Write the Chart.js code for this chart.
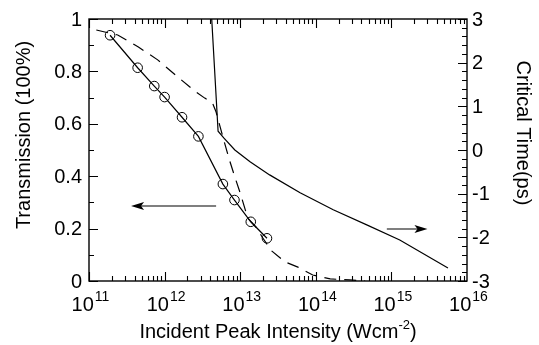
<!DOCTYPE html>
<html>
<head>
<meta charset="utf-8">
<script src="https://cdn.jsdelivr.net/npm/chart.js@4.4.0/dist/chart.umd.min.js"></script>
<style>
  html, body { margin: 0; padding: 0; background: #fff; }
</style>
</head>
<body>
<canvas id="chart" width="539" height="345"></canvas>
<script>
// measured transmission (open circles)
const measIntensity = [1.9e11, 4.4e11, 7.3e11, 1.0e12, 1.7e12, 2.8e12, 5.9e12, 8.4e12, 1.38e13, 2.26e13];
const measTrans = [0.938, 0.814, 0.744, 0.702, 0.625, 0.552, 0.370, 0.309, 0.226, 0.163];

// calculated transmission (dashed)
const modelIntensity = [1.25e11, 2.4e11, 4.5e11, 8.1e11, 1.45e12, 2.5e12, 3.4e12, 4.3e12, 4.8e12, 5.9e12, 7.2e12,
  8.5e12, 1.0e13, 1.26e13, 1.66e13, 1.95e13, 2.6e13, 3.9e13, 5.8e13, 9.1e13, 1.55e14, 2.8e14, 4.5e14];
const modelTrans = [0.958, 0.939, 0.893, 0.844, 0.782, 0.725, 0.698, 0.679, 0.645, 0.55, 0.462,
  0.397, 0.336, 0.24, 0.202, 0.168, 0.115, 0.073, 0.053, 0.023, 0.008, 0.004, 0.0];

// critical time, right axis (solid)
const critIntensity = [4.2e12, 5.1e12, 6.1e12, 8.5e12, 1.35e13, 2.45e13, 6.2e13, 1.7e14, 4.8e14, 1.29e15, 5.6e15];
const critTime = [3.0, 0.43, 0.27, 0.0, -0.27, -0.57, -0.98, -1.37, -1.72, -2.06, -2.70];

// axis ticks
const xTickExps = [11, 12, 13, 14, 15, 16];
const leftTicks = [0, 0.2, 0.4, 0.6, 0.8, 1];
const leftTickLabels = ['0', '0.2', '0.4', '0.6', '0.8', '1'];
const rightTicks = [-3, -2, -1, 0, 1, 2, 3];
const rightTickLabels = ['-3', '-2', '-1', '0', '1', '2', '3'];

// arrows: [x from, x to (head), y] in data units
const arrowLeft = [4.8e12, 3.6e11, 0.286];    // on transmission axis
const arrowRight = [8.7e14, 3.0e15, -1.81];   // on critical time axis

const FONT = '"Liberation Sans", Arial, Helvetica, sans-serif';

const toPoints = (xs, ys) => xs.map((x, i) => ({ x: x, y: ys[i] }));

function arrow(ctx, x0, x1, y) {
    const dir = x1 > x0 ? 1 : -1;
    ctx.beginPath();
    ctx.moveTo(x0, y);
    ctx.lineTo(x1 - dir * 8, y);
    ctx.stroke();
    ctx.beginPath();
    ctx.moveTo(x1, y);
    ctx.lineTo(x1 - dir * 13, y - 4);
    ctx.lineTo(x1 - dir * 10, y);
    ctx.lineTo(x1 - dir * 13, y + 4);
    ctx.closePath();
    ctx.fill();
}

const frame = {
    id: 'frame',
    afterDraw(chart) {
        const { ctx, chartArea: a, scales } = chart;
        const sx = scales.x, yl = scales.y, yr = scales.y2;
        ctx.save();
        ctx.strokeStyle = '#000';
        ctx.fillStyle = '#000';
        ctx.lineWidth = 1.4;
        ctx.strokeRect(a.left, a.top, a.right - a.left, a.bottom - a.top);

        // inward ticks
        ctx.lineWidth = 1.1;
        ctx.beginPath();
        for (let e = 11; e < 16; e++) {
            for (let m = 1; m <= 9; m++) {
                const px = Math.round(sx.getPixelForValue(m * Math.pow(10, e))) + 0.5;
                const len = m === 1 ? 9 : 5;
                ctx.moveTo(px, a.bottom); ctx.lineTo(px, a.bottom - len);
                ctx.moveTo(px, a.top); ctx.lineTo(px, a.top + len);
            }
        }
        for (let i = 0; i <= 10; i++) {
            const py = Math.round(yl.getPixelForValue(i / 10)) + 0.5;
            const len = i % 2 === 0 ? 9 : 5;
            ctx.moveTo(a.left, py); ctx.lineTo(a.left + len, py);
        }
        for (let i = -15; i <= 15; i++) {
            const py = Math.round(yr.getPixelForValue(i / 5)) + 0.5;
            const len = i % 5 === 0 ? 9 : 5;
            ctx.moveTo(a.right, py); ctx.lineTo(a.right - len, py);
        }
        ctx.stroke();

        // tick labels
        ctx.textBaseline = 'middle';
        ctx.font = '20px ' + FONT;
        ctx.textAlign = 'right';
        leftTicks.forEach((v, i) => ctx.fillText(leftTickLabels[i], a.left - 7, yl.getPixelForValue(v) + 1));
        ctx.textAlign = 'left';
        rightTicks.forEach((v, i) => ctx.fillText(rightTickLabels[i], a.right + 5, yr.getPixelForValue(v) + 1));

        ctx.textBaseline = 'alphabetic';
        xTickExps.forEach(e => {
            const px = sx.getPixelForValue(Math.pow(10, e));
            ctx.font = '20px ' + FONT;
            const w1 = ctx.measureText('10').width;
            ctx.font = '14px ' + FONT;
            const w2 = ctx.measureText(String(e)).width;
            const x0 = px - (w1 + w2) / 2 + 1;
            ctx.font = '20px ' + FONT;
            ctx.textAlign = 'left';
            ctx.fillText('10', x0, 311);
            ctx.font = '14px ' + FONT;
            ctx.fillText(String(e), x0 + w1 + 1, 301);
        });

        // x title with superscript
        ctx.font = '20px ' + FONT;
        const t1 = 'Incident Peak Intensity (Wcm';
        const t2 = '-2', t3 = ')';
        const w1 = ctx.measureText(t1).width, w3 = ctx.measureText(t3).width;
        ctx.font = '13px ' + FONT;
        const w2 = ctx.measureText(t2).width;
        let tx = (a.left + a.right) / 2 - (w1 + w2 + w3) / 2;
        ctx.font = '20px ' + FONT;
        ctx.fillText(t1, tx, 338);
        ctx.font = '13px ' + FONT;
        ctx.fillText(t2, tx + w1, 329);
        ctx.font = '20px ' + FONT;
        ctx.fillText(t3, tx + w1 + w2, 338);

        // y titles
        ctx.textAlign = 'center';
        ctx.textBaseline = 'middle';
        ctx.save();
        ctx.translate(24, 135);
        ctx.rotate(-Math.PI / 2);
        ctx.fillText('Transmission (100%)', 0, 0);
        ctx.restore();
        ctx.save();
        ctx.translate(523, 133);
        ctx.rotate(Math.PI / 2);
        ctx.fillText('Critical Time(ps)', 0, 0);
        ctx.restore();

        // arrows
        ctx.lineWidth = 1.1;
        arrow(ctx, sx.getPixelForValue(arrowLeft[0]), sx.getPixelForValue(arrowLeft[1]), yl.getPixelForValue(arrowLeft[2]));
        arrow(ctx, sx.getPixelForValue(arrowRight[0]), sx.getPixelForValue(arrowRight[1]), yr.getPixelForValue(arrowRight[2]));
        ctx.restore();
    }
};

new Chart(document.getElementById('chart'), {
    type: 'line',
    data: {
        datasets: [
            {
                data: toPoints(measIntensity, measTrans),
                yAxisID: 'y',
                borderColor: '#000',
                borderWidth: 1.2,
                pointRadius: 4.8,
                pointBorderWidth: 1,
                pointBorderColor: '#000',
                pointBackgroundColor: 'rgba(0,0,0,0)',
                tension: 0
            },
            {
                data: toPoints(modelIntensity, modelTrans),
                yAxisID: 'y',
                borderColor: '#000',
                borderWidth: 1.2,
                borderDash: [12, 8],
                pointRadius: 0,
                tension: 0
            },
            {
                data: toPoints(critIntensity, critTime),
                yAxisID: 'y2',
                borderColor: '#000',
                borderWidth: 1.2,
                pointRadius: 0,
                tension: 0
            }
        ]
    },
    options: {
        responsive: false,
        animation: false,
        layout: { padding: { top: 19, left: 0, right: 0, bottom: 0 } },
        plugins: { legend: { display: false }, tooltip: { enabled: false } },
        scales: {
            x: {
                type: 'logarithmic',
                min: 1e11,
                max: 1e16,
                grid: { display: false },
                border: { display: false },
                ticks: { display: false },
                afterFit: s => { s.height = 64; }
            },
            y: {
                position: 'left',
                min: 0,
                max: 1,
                grid: { display: false },
                border: { display: false },
                ticks: { display: false },
                afterFit: s => { s.width = 89; }
            },
            y2: {
                position: 'right',
                min: -3,
                max: 3,
                grid: { display: false },
                border: { display: false },
                ticks: { display: false },
                afterFit: s => { s.width = 72; }
            }
        }
    },
    plugins: [frame]
});
</script>
</body>
</html>
